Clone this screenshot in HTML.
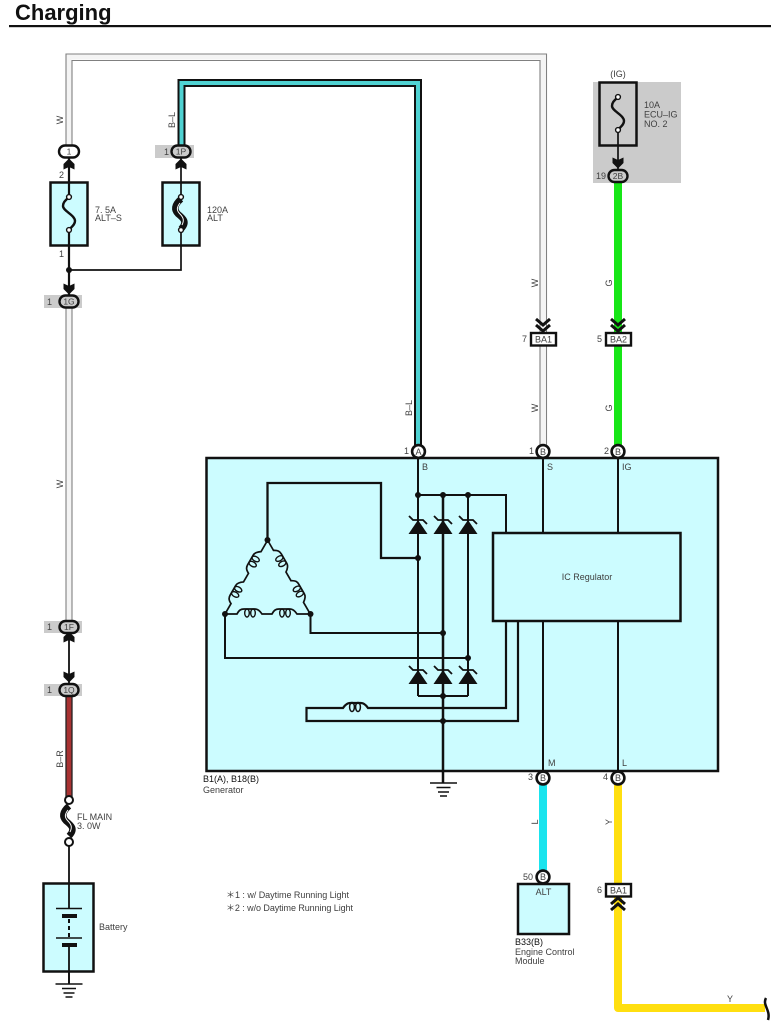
<!DOCTYPE html>
<html><head><meta charset="utf-8"><style>
html,body{margin:0;padding:0;background:#fff}
svg{display:block}
text{font-family:"Liberation Sans",sans-serif;font-size:9px;fill:#404040}
.c{text-anchor:middle}
.l{fill:none;stroke:#111;stroke-width:2}
</style></head><body>
<svg width="778" height="1031" viewBox="0 0 778 1031" xmlns="http://www.w3.org/2000/svg">
<defs>
<polygon id="au" points="0,-5.5 5.5,0 5.5,5.5 0,3 -5.5,5.5 -5.5,0" fill="#111"/>
<polygon id="ad" points="0,5.5 5.5,0 5.5,-5.5 0,-3 -5.5,-5.5 -5.5,0" fill="#111"/>
<path id="cd" d="M-7,-6 L0,0 L7,-6 M-7,0 L0,6 L7,0" fill="none" stroke="#111" stroke-width="3"/>
<path id="cu" d="M-7,6 L0,0 L7,6 M-7,0 L0,-6 L7,0" fill="none" stroke="#111" stroke-width="3"/>
<g id="dio"><polygon points="0,-14 9.5,0 -9.5,0" fill="#111"/><path d="M-9,-18 L-5,-14 H5 L9,-10" fill="none" stroke="#111" stroke-width="1.8"/></g>
<path id="fuse" d="M0,0 C-3,3 -6,5 -6,9 C-6,14 6,18 6,24 C6,28 2,30 0,33" fill="none" stroke="#111" stroke-width="2.4"/>
<g id="fat"><path d="M0,2 C-7,8 -7,13 -3,17 C2,21 7,25 0,32" fill="none" stroke="#111" stroke-width="6.5"/><path d="M-1,6 C-5,11 -4,14 -1,17 C3,21 3,24 1,28" fill="none" stroke="#fff" stroke-width="1"/></g>
<g id="edge" fill="none" stroke="#111">
<path stroke-width="1.7" d="M0,0 H12 C14,-4 16,-5 19,-5 H30 C33,-5 35,-3 37,0 H47 C49,-4 51,-5 54,-5 H65 C68,-5 70,-3 72,0 H85"/>
<g stroke-width="1.4"><ellipse cx="22" cy="-1" rx="2.3" ry="4"/><ellipse cx="28" cy="-1" rx="2.3" ry="4"/><ellipse cx="57" cy="-1" rx="2.3" ry="4"/><ellipse cx="63" cy="-1" rx="2.3" ry="4"/></g>
</g>
<path id="gnd" d="M-13.5,0 H13.5 M-7,4.5 H7 M-5.5,9 H5.5 M-3.5,13 H3.5" stroke="#111" stroke-width="1.6" fill="none"/>
<circle id="dot" r="3" fill="#111"/>
</defs>

<text x="15" y="20" style="font-size:22px;font-weight:bold;fill:#111">Charging</text>
<rect x="9" y="25" width="762" height="2.2" fill="#111"/>

<!-- W wire top -->
<path d="M69,145 V57 H543 V333 M69,307 V621 M543,346 V445" fill="none" stroke="#f4f4f4" stroke-width="5"/>
<path d="M66,146 V54 H546.5 V333 M72,146 V60.5 H540 V333 M66,307 V621 M72,307 V621 M540,346 V445 M546.5,346 V445" fill="none" stroke="#808080" stroke-width="1.1"/>

<!-- B-L wire -->
<path d="M181,146 V83 H418 V445" fill="none" stroke="#4fd2d2" stroke-width="6"/>
<path d="M178.5,146 V80 H421 V445 M184.5,146 V86 H415 V445" fill="none" stroke="#111" stroke-width="2"/>

<!-- colored wires -->
<rect x="614" y="182" width="8" height="150" fill="#17e617"/>
<rect x="614" y="346" width="8" height="100" fill="#17e617"/>
<rect x="539" y="785" width="8" height="88" fill="#1ae4ee"/>
<path d="M618,785 V883 M618,897 V1008 H765" fill="none" stroke="#ffdf10" stroke-width="8" stroke-linejoin="round"/>
<path d="M766,998 C762,1005 771,1010 768,1020" fill="none" stroke="#111" stroke-width="2.5"/>
<rect x="66" y="696" width="6" height="102" fill="#a83232"/>
<path d="M66,696 V798 M72,696 V798" stroke="#222" stroke-width="1.3"/>

<!-- gray backgrounds -->
<rect x="593" y="82" width="88" height="101" fill="#cbcbcb"/>
<rect x="155" y="145" width="39" height="13" fill="#cbcbcb"/>
<rect x="44" y="295" width="38" height="13" fill="#cbcbcb"/>
<rect x="44" y="621" width="38" height="12" fill="#cbcbcb"/>
<rect x="44" y="684" width="38" height="12" fill="#cbcbcb"/>

<!-- fuses -->
<rect x="50.5" y="182.5" width="37" height="63" fill="#ccfcff" stroke="#111" stroke-width="2.5"/>
<rect x="162.5" y="182.5" width="37" height="63" fill="#ccfcff" stroke="#111" stroke-width="2.5"/>
<rect x="599.5" y="82.5" width="37" height="63" fill="#cbcbcb" stroke="#111" stroke-width="2.5"/>
<path d="M69,158 V197 M69,230 V295 M181,158 V197 M181,230 V270 H69 M618,130 V170" fill="none" stroke="#111" stroke-width="1.7"/>
<path d="M69,158 V197 M69,230 V295" stroke="#111" stroke-width="2.2"/>
<path d="M69,633 V684" stroke="#111" stroke-width="1.8"/>
<use href="#fuse" x="69" y="197"/><use href="#fat" x="181" y="197"/><use href="#fuse" x="618" y="97"/>
<g fill="#fff" stroke="#111" stroke-width="1.4">
<circle cx="69" cy="197" r="2.4"/><circle cx="69" cy="230" r="2.4"/>
<circle cx="181" cy="197" r="2.4"/><circle cx="181" cy="230" r="2.4"/>
<circle cx="618" cy="97" r="2.4"/><circle cx="618" cy="130" r="2.4"/>
</g>
<use href="#au" x="69" y="164"/><use href="#au" x="181" y="164"/>
<use href="#ad" x="69" y="289"/><use href="#ad" x="618" y="163"/>
<use href="#au" x="69" y="637"/><use href="#ad" x="69" y="677"/>
<use href="#dot" x="69" y="270"/>

<!-- oval connectors -->
<g stroke="#111" stroke-width="2.4">
<rect x="59" y="145.5" width="20" height="12" rx="6" fill="#fff"/>
<rect x="171.5" y="145.5" width="19" height="12" rx="6" fill="#cbcbcb"/>
<rect x="59.5" y="295.5" width="19" height="12" rx="6" fill="#cbcbcb"/>
<rect x="59.5" y="621" width="19" height="12" rx="6" fill="#cbcbcb"/>
<rect x="59.5" y="684" width="19" height="12" rx="6" fill="#cbcbcb"/>
<rect x="608.5" y="170" width="19" height="12" rx="6" fill="#cbcbcb"/>
</g>
<g style="font-size:8.5px">
<text class="c" style="font-size:8.5px" x="69" y="154.7">1</text><text class="c" style="font-size:8.5px" x="181" y="154.7">1P</text>
<text class="c" style="font-size:8.5px" x="69" y="304.7">1G</text><text class="c" style="font-size:8.5px" x="69" y="630.2">1F</text>
<text class="c" style="font-size:8.5px" x="69" y="693.2">1Q</text><text class="c" style="font-size:8.5px" x="618" y="179.2">2B</text>
</g>
<text x="164" y="155">1</text><text x="47" y="305">1</text><text x="47" y="630">1</text><text x="47" y="693">1</text>
<text x="596" y="179">19</text>
<text x="59" y="178">2</text><text x="59" y="257">1</text>

<!-- BA connectors -->
<use href="#cd" x="543" y="325"/><use href="#cd" x="618" y="325"/><use href="#cu" x="618" y="904"/>
<g fill="#fff" stroke="#111" stroke-width="2.4">
<rect x="531" y="333" width="25" height="12.5"/><rect x="606" y="333" width="25" height="12.5"/><rect x="606" y="884" width="25" height="12.5"/>
</g>
<text class="c" x="543.5" y="342.5">BA1</text><text class="c" x="618.5" y="342.5">BA2</text><text class="c" x="618.5" y="893.5">BA1</text>
<text x="522" y="342">7</text><text x="597" y="342">5</text><text x="597" y="893">6</text>

<!-- Generator -->
<rect x="206.5" y="458" width="511.5" height="313" fill="#ccfcff" stroke="#111" stroke-width="2.5"/>
<rect x="493" y="533" width="187.5" height="88" fill="#ccfcff" stroke="#111" stroke-width="2.5"/>
<text class="c" x="587" y="580">IC Regulator</text>

<path class="l" d="M418,458 V696 M468,495 V696 M418,696 H468 M418,495 H506 V533 M543,458 V533 M618,458 V533 M543,621 V771 M618,621 V771"/>
<path class="l" style="stroke-width:2.5" d="M443,495 V783"/>
<path class="l" style="stroke-width:2.3" d="M267.5,540 V483 H381 V558 H418"/>
<path class="l" d="M310.5,614 V633 H443 M225,614 V658 H468"/>
<path class="l" style="stroke-width:2.2" d="M506,621 V708 H368 C366,705 364,703 361,703 H350 C347,703 345,705 343,708 H306.5 V721 H518 V621"/>
<g fill="none" stroke="#111" stroke-width="1.5"><ellipse cx="352" cy="707" rx="2.4" ry="4.5"/><ellipse cx="358" cy="707" rx="2.4" ry="4.5"/></g>
<use href="#edge" x="225" y="614"/>
<use href="#edge" transform="translate(225,614) rotate(-60)"/>
<use href="#edge" transform="translate(267.5,540) rotate(60)"/>
<use href="#dio" x="418" y="534"/><use href="#dio" x="443" y="534"/><use href="#dio" x="468" y="534"/>
<use href="#dio" x="418" y="684"/><use href="#dio" x="443" y="684"/><use href="#dio" x="468" y="684"/>
<use href="#dot" x="418" y="495"/><use href="#dot" x="443" y="495"/><use href="#dot" x="468" y="495"/>
<use href="#dot" x="418" y="558"/><use href="#dot" x="443" y="633"/><use href="#dot" x="468" y="658"/>
<use href="#dot" x="443" y="696"/><use href="#dot" x="443" y="721"/>
<use href="#dot" x="267.5" y="540"/><use href="#dot" x="225" y="614"/><use href="#dot" x="310.5" y="614"/>
<use href="#gnd" x="443.5" y="783"/>

<!-- round connectors -->
<g fill="#fff" stroke="#111" stroke-width="2.6">
<circle cx="418.5" cy="451.5" r="6.4"/><circle cx="543" cy="451.5" r="6.4"/><circle cx="618" cy="451.5" r="6.4"/>
<circle cx="543" cy="778" r="6.4"/><circle cx="618" cy="778" r="6.4"/><circle cx="543" cy="877" r="6.4"/>
</g>
<text class="c" x="418.5" y="455">A</text><text class="c" x="543" y="455">B</text><text class="c" x="618" y="455">B</text>
<text class="c" x="543" y="781">B</text><text class="c" x="618" y="781">B</text><text class="c" x="543" y="880">B</text>
<text x="404" y="454">1</text><text x="529" y="454">1</text><text x="604" y="454">2</text>
<text x="528" y="780">3</text><text x="603" y="780">4</text><text x="523" y="880">50</text>
<text x="422" y="470">B</text><text x="547" y="470">S</text><text x="622" y="470">IG</text>
<text x="548" y="766">M</text><text x="622" y="766">L</text>

<!-- ECM -->
<rect x="518" y="884" width="51" height="50" fill="#ccfcff" stroke="#111" stroke-width="2.5"/>
<text class="c" x="543.5" y="895">ALT</text>
<text x="515" y="945" style="fill:#111">B33(B)</text>
<text x="515" y="955">Engine Control</text><text x="515" y="964">Module</text>

<!-- Battery -->
<path d="M69,846 V909 M69,916 V926 M69,945 V983" stroke="#111" stroke-width="1.8" fill="none"/>
<rect x="43.5" y="883.5" width="50" height="88" fill="#ccfcff" stroke="#111" stroke-width="2.5"/>
<path d="M69,883 V909 M69,945 V971" stroke="#111" stroke-width="1.8"/>
<path d="M56,908.5 H82 M56,938 H82" stroke="#111" stroke-width="1.5"/>
<path d="M62,916 H77 M62,945 H77" stroke="#111" stroke-width="4"/>
<path d="M69,919 V938" stroke="#111" stroke-width="2" stroke-dasharray="4 3"/>
<use href="#fat" x="69" y="804"/>
<circle cx="69" cy="842" r="4" fill="#fff" stroke="#111" stroke-width="2"/>
<circle cx="69" cy="800" r="4" fill="#fff" stroke="#111" stroke-width="2"/>
<path d="M69,971 V984" stroke="#111" stroke-width="1.8"/>
<use href="#gnd" x="69" y="984"/>

<!-- labels -->
<text x="95" y="213">7. 5A</text><text x="95" y="221">ALT–S</text>
<text x="207" y="213">120A</text><text x="207" y="221">ALT</text>
<text x="644" y="108">10A</text><text x="644" y="117.5">ECU–IG</text><text x="644" y="127">NO. 2</text>
<text class="c" x="618" y="77">(IG)</text>
<text x="77" y="820">FL MAIN</text><text x="77" y="829">3. 0W</text>
<text x="99" y="930">Battery</text>
<text x="203" y="782" style="fill:#111">B1(A), B18(B)</text><text x="203" y="793">Generator</text>
<text x="226" y="898" textLength="123">＊1 : w/ Daytime Running Light</text>
<text x="226" y="911" textLength="127">＊2 : w/o Daytime Running Light</text>
<text class="c" x="730" y="1002">Y</text>

<text class="c" transform="translate(63,120) rotate(-90)">W</text>
<text class="c" transform="translate(175,120) rotate(-90)">B–L</text>
<text class="c" transform="translate(63,484) rotate(-90)">W</text>
<text class="c" transform="translate(538,283) rotate(-90)">W</text>
<text class="c" transform="translate(538,408) rotate(-90)">W</text>
<text class="c" transform="translate(612,283) rotate(-90)">G</text>
<text class="c" transform="translate(612,408) rotate(-90)">G</text>
<text class="c" transform="translate(412,408) rotate(-90)">B–L</text>
<text class="c" transform="translate(63,759) rotate(-90)">B–R</text>
<text class="c" transform="translate(538,822) rotate(-90)">L</text>
<text class="c" transform="translate(612,822) rotate(-90)">Y</text>
</svg>
</body></html>
